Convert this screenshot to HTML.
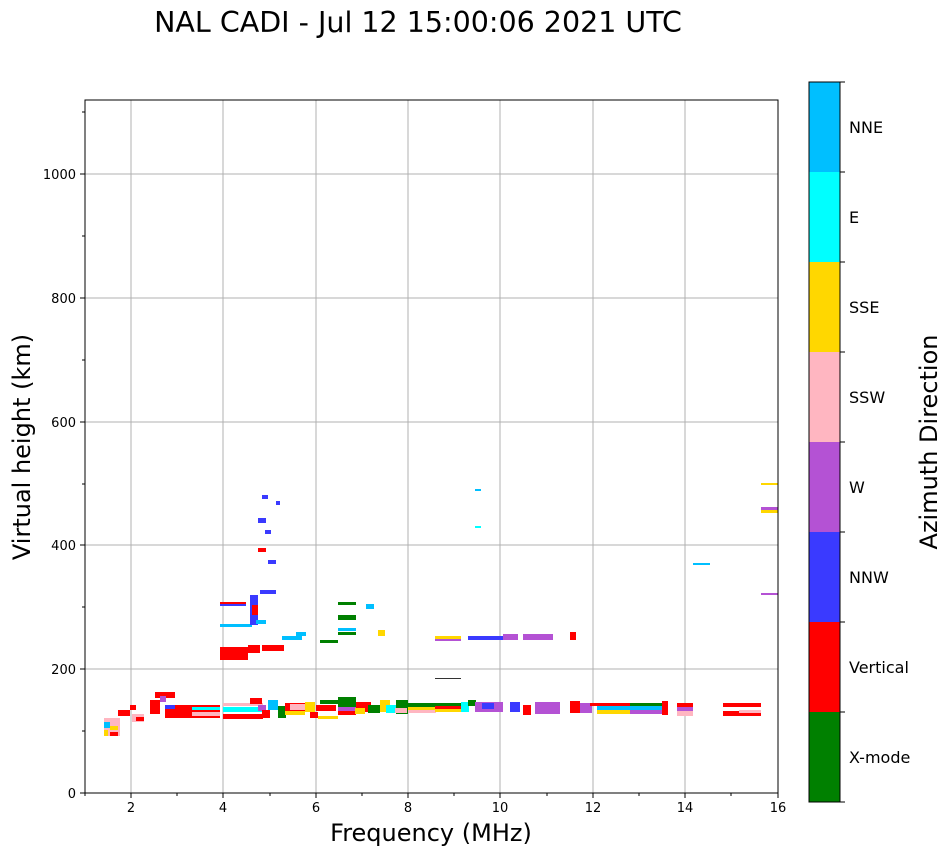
<!DOCTYPE html>
<html><head><style>body{margin:0;background:#fff}svg{display:block}text{font-family:"DejaVu Sans","Liberation Sans",sans-serif}</style></head><body>
<svg width="951" height="856" xmlns="http://www.w3.org/2000/svg">
<text x="418" y="32" font-size="28.5" text-anchor="middle">NAL CADI - Jul 12 15:00:06 2021 UTC</text>
<g stroke="#b0b0b0" stroke-width="1">
<line x1="131" y1="100" x2="131" y2="793"/><line x1="223" y1="100" x2="223" y2="793"/><line x1="316" y1="100" x2="316" y2="793"/><line x1="408" y1="100" x2="408" y2="793"/><line x1="500" y1="100" x2="500" y2="793"/><line x1="593" y1="100" x2="593" y2="793"/><line x1="685" y1="100" x2="685" y2="793"/>
<line x1="85" y1="669" x2="778" y2="669"/><line x1="85" y1="545" x2="778" y2="545"/><line x1="85" y1="422" x2="778" y2="422"/><line x1="85" y1="298" x2="778" y2="298"/><line x1="85" y1="174" x2="778" y2="174"/>
</g>
<g>
<rect x="104" y="718" width="16" height="18" fill="#ffb6c1"/><rect x="104" y="722" width="6" height="6" fill="#00bfff"/><rect x="110" y="726" width="8" height="4" fill="#ffd700"/><rect x="110" y="732" width="8" height="4" fill="red"/><rect x="104" y="730" width="4" height="6" fill="#ffd700"/>
<rect x="118" y="710" width="12" height="6" fill="red"/><rect x="130" y="705" width="6" height="5" fill="red"/><rect x="132" y="714" width="12" height="8" fill="#ffb6c1"/><rect x="136" y="717" width="8" height="4" fill="red"/>
<rect x="150" y="700" width="10" height="14" fill="red"/><rect x="155" y="692" width="20" height="6" fill="red"/><rect x="160" y="696" width="6" height="6" fill="#b452d4"/>
<rect x="165" y="705" width="55" height="13" fill="red"/><rect x="192" y="707" width="28" height="3" fill="cyan"/><rect x="192" y="712" width="28" height="4" fill="#ffb6c1"/><rect x="165" y="705" width="10" height="4" fill="#3a3aff"/>
<rect x="223" y="703" width="40" height="3" fill="#ffb6c1"/><rect x="223" y="707" width="40" height="5" fill="cyan"/><rect x="223" y="714" width="40" height="5" fill="red"/>
<rect x="250" y="698" width="12" height="6" fill="red"/><rect x="258" y="705" width="8" height="6" fill="#b452d4"/><rect x="262" y="710" width="8" height="8" fill="red"/><rect x="268" y="700" width="10" height="10" fill="#00bfff"/><rect x="278" y="706" width="8" height="12" fill="green"/><rect x="285" y="703" width="20" height="8" fill="red"/><rect x="285" y="711" width="20" height="4" fill="#ffd700"/><rect x="290" y="704" width="16" height="6" fill="#ffb6c1"/><rect x="305" y="702" width="10" height="10" fill="#ffd700"/><rect x="310" y="712" width="8" height="6" fill="red"/>
<rect x="316" y="705" width="20" height="6" fill="red"/><rect x="318" y="716" width="20" height="3" fill="#ffd700"/><rect x="320" y="700" width="18" height="4" fill="green"/>
<rect x="338" y="697" width="18" height="10" fill="green"/><rect x="338" y="707" width="18" height="4" fill="#b452d4"/><rect x="338" y="711" width="18" height="4" fill="red"/><rect x="356" y="702" width="15" height="10" fill="red"/><rect x="355" y="708" width="10" height="6" fill="#ffd700"/><rect x="368" y="705" width="12" height="8" fill="green"/><rect x="380" y="700" width="10" height="12" fill="#ffd700"/><rect x="386" y="705" width="10" height="8" fill="cyan"/><rect x="396" y="700" width="12" height="14" fill="green"/><rect x="395" y="708" width="12" height="5" fill="#ffb6c1"/>
<rect x="408" y="703" width="28" height="5" fill="green"/><rect x="408" y="707" width="28" height="5" fill="#ffd700"/><rect x="408" y="710" width="28" height="3" fill="#ffb6c1"/>
<rect x="435" y="703" width="26" height="3" fill="green"/><rect x="435" y="706" width="26" height="3" fill="red"/><rect x="435" y="709" width="26" height="3" fill="#ffd700"/>
<rect x="461" y="702" width="8" height="10" fill="cyan"/><rect x="468" y="700" width="8" height="6" fill="green"/><rect x="475" y="702" width="28" height="10" fill="#b452d4"/><rect x="482" y="703" width="12" height="6" fill="#3a3aff"/><rect x="510" y="702" width="10" height="10" fill="#3a3aff"/><rect x="523" y="705" width="8" height="10" fill="red"/><rect x="535" y="702" width="25" height="12" fill="#b452d4"/><rect x="570" y="701" width="10" height="12" fill="red"/><rect x="580" y="703" width="12" height="10" fill="#b452d4"/>
<rect x="590" y="703" width="40" height="3" fill="red"/><rect x="597" y="706" width="33" height="4" fill="#00bfff"/><rect x="597" y="710" width="33" height="4" fill="#ffd700"/><rect x="630" y="703" width="32" height="3" fill="green"/><rect x="630" y="706" width="32" height="4" fill="#00bfff"/><rect x="630" y="710" width="32" height="4" fill="#b452d4"/><rect x="662" y="701" width="6" height="14" fill="red"/>
<rect x="677" y="703" width="16" height="4" fill="red"/><rect x="677" y="707" width="16" height="4" fill="#b452d4"/><rect x="677" y="711" width="16" height="5" fill="#ffb6c1"/>
<rect x="723" y="703" width="38" height="4" fill="red"/><rect x="723" y="711" width="38" height="5" fill="red"/><rect x="739" y="710" width="22" height="3" fill="#ffb6c1"/>
<rect x="220" y="647" width="28" height="13" fill="red"/><rect x="220" y="602" width="26" height="3" fill="red"/><rect x="220" y="604" width="26" height="2" fill="#3a3aff"/><rect x="220" y="624" width="32" height="3" fill="#00bfff"/>
<rect x="248" y="645" width="12" height="8" fill="red"/><rect x="262" y="645" width="22" height="6" fill="red"/><rect x="282" y="636" width="20" height="4" fill="#00bfff"/><rect x="296" y="632" width="10" height="4" fill="#00bfff"/>
<rect x="250" y="595" width="8" height="30" fill="#3a3aff"/><rect x="252" y="605" width="6" height="10" fill="red"/><rect x="256" y="620" width="10" height="4" fill="#00bfff"/>
<rect x="258" y="518" width="8" height="5" fill="#3a3aff"/><rect x="262" y="495" width="6" height="4" fill="#3a3aff"/><rect x="258" y="548" width="8" height="4" fill="red"/><rect x="268" y="560" width="8" height="4" fill="#3a3aff"/><rect x="265" y="530" width="6" height="4" fill="#3a3aff"/><rect x="260" y="590" width="16" height="4" fill="#3a3aff"/><rect x="276" y="501" width="4" height="4" fill="#3a3aff"/>
<rect x="338" y="602" width="18" height="3" fill="green"/><rect x="338" y="615" width="18" height="5" fill="green"/><rect x="338" y="628" width="18" height="3" fill="#00bfff"/><rect x="338" y="632" width="18" height="3" fill="green"/><rect x="366" y="604" width="8" height="5" fill="#00bfff"/><rect x="378" y="630" width="7" height="6" fill="#ffd700"/><rect x="320" y="640" width="18" height="3" fill="green"/>
<rect x="435" y="636" width="26" height="3" fill="#ffd700"/><rect x="435" y="639" width="26" height="2" fill="#b452d4"/><rect x="468" y="636" width="35" height="4" fill="#3a3aff"/><rect x="503" y="634" width="15" height="6" fill="#b452d4"/><rect x="523" y="634" width="30" height="6" fill="#b452d4"/><rect x="570" y="632" width="6" height="8" fill="red"/>
<rect x="435" y="678" width="26" height="1" fill="#333"/><rect x="475" y="489" width="6" height="2" fill="#00bfff"/><rect x="475" y="526" width="6" height="2" fill="cyan"/><rect x="693" y="563" width="17" height="2" fill="#00bfff"/>
<rect x="761" y="483" width="17" height="2" fill="#ffd700"/><rect x="761" y="507" width="17" height="3" fill="#b452d4"/><rect x="761" y="510" width="17" height="3" fill="#ffd700"/><rect x="761" y="593" width="17" height="2" fill="#b452d4"/>
</g>
<rect x="85" y="100" width="693" height="693" fill="none" stroke="#000" stroke-width="1"/>
<g font-size="13" text-anchor="middle">
<text x="131" y="812">2</text><text x="223" y="812">4</text><text x="316" y="812">6</text><text x="408" y="812">8</text><text x="500" y="812">10</text><text x="593" y="812">12</text><text x="685" y="812">14</text><text x="778" y="812">16</text>
</g>
<g font-size="13" text-anchor="end">
<text x="76" y="798">0</text><text x="76" y="674">200</text><text x="76" y="550">400</text><text x="76" y="427">600</text><text x="76" y="303">800</text><text x="76" y="179">1000</text>
</g>
<g stroke="#000"><line x1="131" y1="793" x2="131" y2="798"/><line x1="223" y1="793" x2="223" y2="798"/><line x1="316" y1="793" x2="316" y2="798"/><line x1="408" y1="793" x2="408" y2="798"/><line x1="500" y1="793" x2="500" y2="798"/><line x1="593" y1="793" x2="593" y2="798"/><line x1="685" y1="793" x2="685" y2="798"/><line x1="778" y1="793" x2="778" y2="798"/>
<line x1="85" y1="793" x2="85" y2="796"/><line x1="177" y1="793" x2="177" y2="796"/><line x1="270" y1="793" x2="270" y2="796"/><line x1="362" y1="793" x2="362" y2="796"/><line x1="454" y1="793" x2="454" y2="796"/><line x1="547" y1="793" x2="547" y2="796"/><line x1="639" y1="793" x2="639" y2="796"/><line x1="731" y1="793" x2="731" y2="796"/>
<line x1="80" y1="793" x2="85" y2="793"/><line x1="80" y1="669" x2="85" y2="669"/><line x1="80" y1="545" x2="85" y2="545"/><line x1="80" y1="422" x2="85" y2="422"/><line x1="80" y1="298" x2="85" y2="298"/><line x1="80" y1="174" x2="85" y2="174"/>
<line x1="82" y1="731" x2="85" y2="731"/><line x1="82" y1="607" x2="85" y2="607"/><line x1="82" y1="484" x2="85" y2="484"/><line x1="82" y1="360" x2="85" y2="360"/><line x1="82" y1="236" x2="85" y2="236"/><line x1="82" y1="112" x2="85" y2="112"/>
<line x1="840" y1="82" x2="845" y2="82"/><line x1="840" y1="172" x2="845" y2="172"/><line x1="840" y1="262" x2="845" y2="262"/><line x1="840" y1="352" x2="845" y2="352"/><line x1="840" y1="442" x2="845" y2="442"/><line x1="840" y1="532" x2="845" y2="532"/><line x1="840" y1="622" x2="845" y2="622"/><line x1="840" y1="712" x2="845" y2="712"/><line x1="840" y1="802" x2="845" y2="802"/>
</g>
<text x="431" y="841" font-size="24" text-anchor="middle">Frequency (MHz)</text>
<text transform="translate(30,447) rotate(-90)" font-size="24" text-anchor="middle">Virtual height (km)</text>
<rect x="809" y="82" width="31" height="90" fill="#00bfff"/><rect x="809" y="172" width="31" height="90" fill="cyan"/><rect x="809" y="262" width="31" height="90" fill="#ffd700"/><rect x="809" y="352" width="31" height="90" fill="#ffb6c1"/><rect x="809" y="442" width="31" height="90" fill="#b452d4"/><rect x="809" y="532" width="31" height="90" fill="#3a3aff"/><rect x="809" y="622" width="31" height="90" fill="red"/><rect x="809" y="712" width="31" height="90" fill="green"/>
<rect x="809" y="82" width="31" height="720" fill="none" stroke="#000"/>
<g font-size="16"><text x="849" y="133">NNE</text><text x="849" y="223">E</text><text x="849" y="313">SSE</text><text x="849" y="403">SSW</text><text x="849" y="493">W</text><text x="849" y="583">NNW</text><text x="849" y="673">Vertical</text><text x="849" y="763">X-mode</text></g>
<text transform="translate(937,442) rotate(-90)" font-size="24" text-anchor="middle">Azimuth Direction</text>
</svg>
</body></html>
